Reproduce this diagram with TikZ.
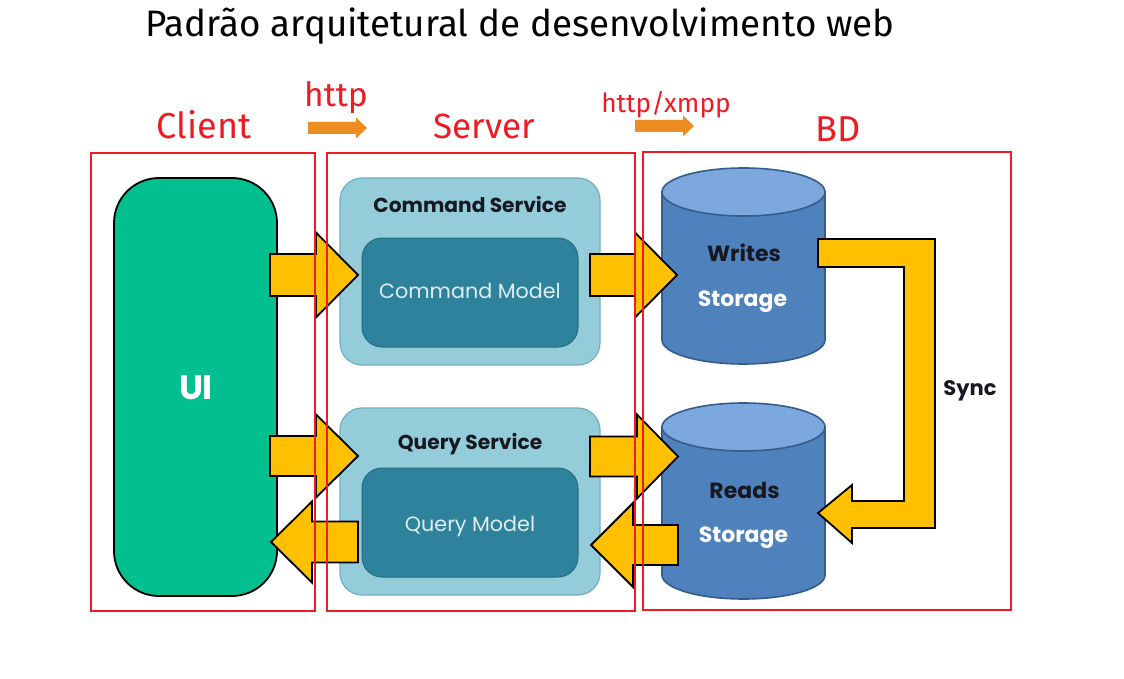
\documentclass[tikz,border=0pt]{standalone}
\usepackage{fontspec}
\setmainfont{Fira Sans}
\newfontfamily\pop{Poppins}
\newfontfamily\fira{Fira Sans}
\definecolor{redc}{RGB}{237,28,36}
\definecolor{yell}{RGB}{255,192,0}
\definecolor{orng}{RGB}{237,141,32}
\definecolor{uigreen}{RGB}{2,191,143}
\definecolor{svclight}{RGB}{148,205,217}
\definecolor{svcedge}{RGB}{112,176,192}
\definecolor{modeldark}{RGB}{46,130,155}
\definecolor{modeledge}{RGB}{38,108,130}
\definecolor{modeltext}{RGB}{222,238,242}
\definecolor{cylbody}{RGB}{79,129,189}
\definecolor{cyltop}{RGB}{125,168,222}
\definecolor{cyledge}{RGB}{52,92,140}
\definecolor{darktext}{RGB}{24,24,34}
\tikzset{
  redbox/.style={draw=redc, line width=1.1pt},
  redlabel/.style={text=redc, anchor=base, inner sep=0pt, font=\fira\fontsize{36}{40}\selectfont},
  yarr/.style={fill=yell, draw=black, line width=1.8pt, line join=miter},
  oarr/.style={fill=orng},
  svcbox/.style={draw=svcedge, fill=svclight, line width=1.2pt, rounded corners=22pt,
     minimum width=260pt, inner sep=0pt},
  modelbox/.style={draw=modeledge, fill=modeldark, line width=1pt, rounded corners=20pt,
     minimum width=216pt, minimum height=109pt, inner sep=0pt},
  svctext/.style={anchor=base, inner sep=0pt, text=darktext, font=\pop\bfseries\fontsize{20.2}{22}\selectfont},
  modeltxt/.style={anchor=base, inner sep=0pt, text=modeltext, font=\pop\fontsize{20.7}{22}\selectfont},
  cyl/.style={fill=cylbody, draw=cyledge, line width=1.6pt},
  cyltopst/.style={fill=cyltop, draw=cyledge, line width=1.6pt},
  cyltext/.style={anchor=base, inner sep=0pt, font=\pop\bfseries\fontsize{22}{24}\selectfont},
}
\newcommand\yarrow[6]{%
  \draw[yarr] (#1,#4-#5) -- (#2,#4-#5) -- (#2,#4-#6) -- (#3,#4) -- (#2,#4+#6) -- (#2,#4+#5) -- (#1,#4+#5) -- cycle;}
\newcommand\oarrow[6]{%
  \fill[oarr] (#1,#4-#5) -- (#2,#4-#5) -- (#2,#4-#6) -- (#3,#4) -- (#2,#4+#6) -- (#2,#4+#5) -- (#1,#4+#5) -- cycle;}
\begin{document}
\begin{tikzpicture}[x=1pt,y=-1pt]
\useasboundingbox (0,0) rectangle (1124,679);
\fill[white] (0,0) rectangle (1124,679);

% title
\node[anchor=base, inner sep=0pt, font=\fira\fontsize{36.8}{40}\selectfont] (title) at (520,37) {Padrão arquitetural de desenvolvimento web};

% red labels
\node[redlabel] (client) at (204,139) {Client};
\node[redlabel, font=\fira\fontsize{35}{40}\selectfont] (server) at (484,139) {Server};
\node[redlabel] (bd) at (838,142) {BD};
\node[redlabel, font=\fira\fontsize{33.5}{36}\selectfont] (http) at (336,107) {http};
\node[redlabel, font=\fira\fontsize{26.3}{30}\selectfont] (httpx) at (666,113) {http/xmpp};

% orange arrows
\oarrow{308}{356}{367}{128}{6}{10.5}
\oarrow{635}{683}{694}{126}{6}{10.5}

% UI
\node[draw=black, fill=uigreen, line width=1.8pt, rounded corners=45pt,
      minimum width=163pt, minimum height=418pt] (ui) at (195.5,387) {};
\node[text=white, inner sep=0pt, font=\pop\bfseries\fontsize{34}{36}\selectfont] (uitext) at (196,388) {UI};

% services
\node[svcbox, minimum height=187pt] (cmdsvc) at (470,271.5) {};
\node[modelbox] (cmdmodel) at (470,292.5) {};
\node[svctext] (cmdsvct) at (470,213) {Command Service};
\node[modeltxt] (cmdmodelt) at (470,298) {Command Model};

\node[svcbox, minimum height=187pt] (qsvc) at (470,501.5) {};
\node[modelbox] (qmodel) at (470,522.5) {};
\node[svctext] (qsvct) at (470,449) {Query Service};
\node[modeltxt] (qmodelt) at (470,531) {Query Model};

% cylinders
\draw[cyl] (662,192) -- (662,340) arc[start angle=180, end angle=0, x radius=81.5, y radius=24] -- (825,192) -- cycle;
\draw[cyltopst] (743.5,192) ellipse [x radius=81.5, y radius=24];
\node[cyltext, text=darktext] (writes) at (744,261) {Writes};
\node[cyltext, text=white] (wstor) at (742.5,306) {Storage};

\draw[cyl] (662,427) -- (662,575) arc[start angle=180, end angle=0, x radius=81.5, y radius=24] -- (825,427) -- cycle;
\draw[cyltopst] (743.5,427) ellipse [x radius=81.5, y radius=24];
\node[cyltext, text=darktext] (reads) at (744.5,498) {Reads};
\node[cyltext, text=white] (rstor) at (743.5,542) {Storage};

% yellow arrows
\yarrow{270}{316}{358}{275}{21}{42.5}
\yarrow{590}{635}{677}{275}{21}{42.5}
\yarrow{270}{316}{358}{456}{20}{41.5}
\yarrow{590}{637}{678}{456.5}{20}{42}
\yarrow{358}{312}{271}{542}{20.5}{40.5}
\yarrow{678}{633}{591}{545}{20}{42}

% sync arrow
\draw[yarr] (818,239) -- (935,239) -- (935,528) -- (852,528) -- (852,543) -- (818,513) -- (852,485) -- (852,501) -- (904,501) -- (904,267) -- (818,267) -- cycle;
\node[anchor=base, inner sep=0pt, text=darktext, font=\pop\bfseries\fontsize{21}{23}\selectfont] (sync) at (970,395) {Sync};

% red boxes
\draw[redbox] (91,153) rectangle (315,611);
\draw[redbox] (327,153) rectangle (635,611);
\draw[redbox] (643,152) rectangle (1011,610);
\end{tikzpicture}
\end{document}
